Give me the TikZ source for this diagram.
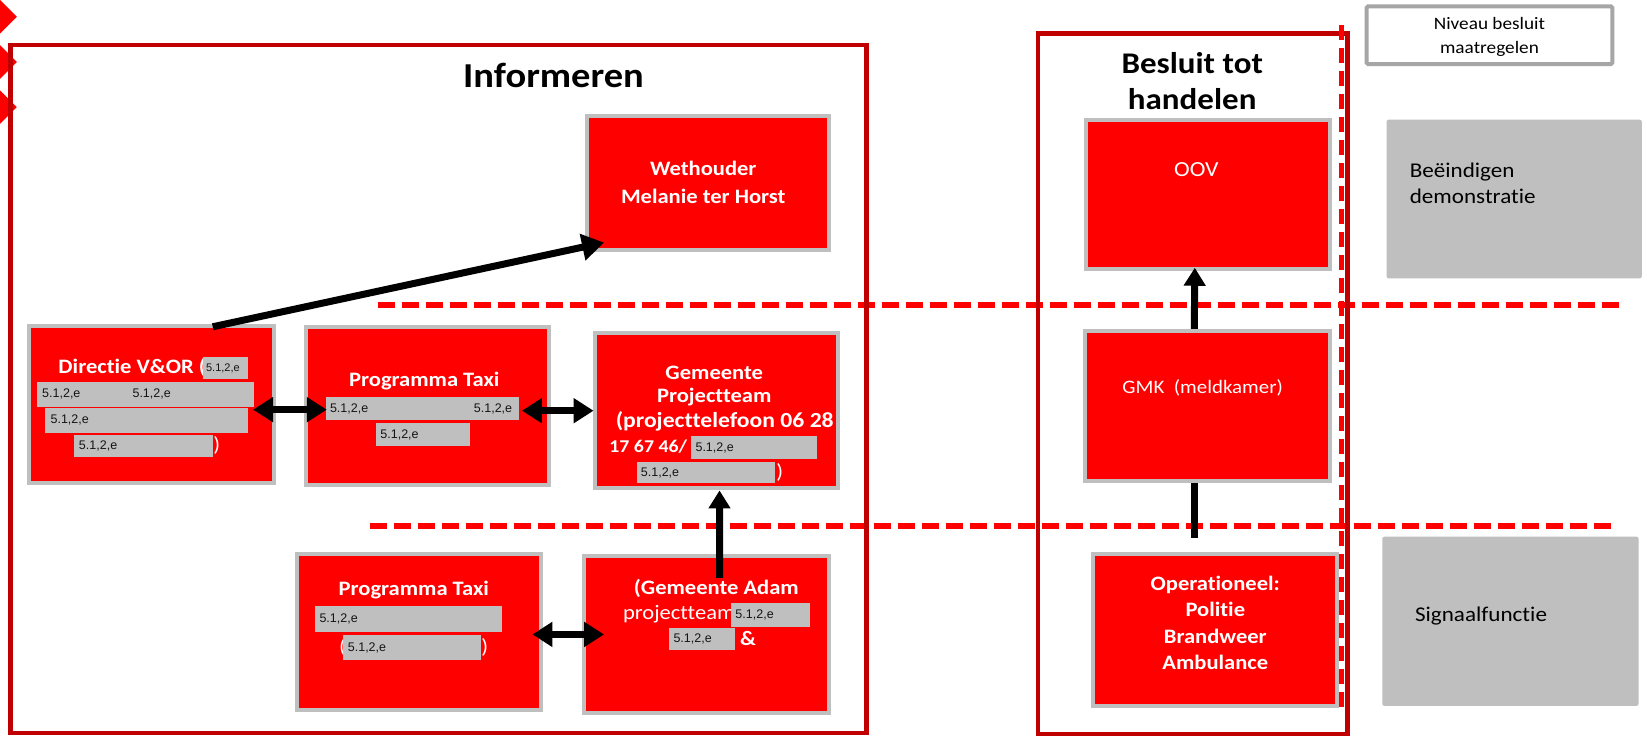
\documentclass[tikz,border=0pt]{standalone}
\usepackage{fontspec}
\setmainfont{Carlito}[FakeStretch=1.1, Ligatures=NoCommon]
\newfontfamily\redactfont{Liberation Sans}
\usetikzlibrary{arrows.meta,fit,calc}
\definecolor{frameRed}{HTML}{C00000}
\definecolor{boxRed}{HTML}{FF0000}
\definecolor{boxGray}{HTML}{BFBFBF}
\definecolor{legGray}{HTML}{A6A6A6}
\definecolor{redactTxt}{HTML}{141414}
\tikzset{
  frame/.style={draw=frameRed, line width=4.5pt, inner sep=0pt},
  redbox/.style={draw=boxGray, fill=boxRed, line width=4pt, inner sep=0pt},
  graybox/.style={fill=boxGray, rounded corners=2pt, inner sep=0pt},
  legbox/.style={draw=legGray, fill=white, line width=4pt, rounded corners=1.5pt, inner sep=0pt},
  divider/.style={draw=boxRed, line width=6pt, dash pattern=on 17pt off 7pt},
  vdivider/.style={draw=boxRed, line width=4.5pt, dash pattern=on 15pt off 8pt},
  arr/.style={line width=7pt, -{Triangle[length=22pt,width=26pt]}},
  arrv/.style={line width=7pt, -{Triangle[length=18pt,width=21pt]}},
  darr/.style={line width=7pt, {Triangle[length=20pt,width=24pt]}-{Triangle[length=20pt,width=24pt]}},
  link/.style={line width=7pt},
  redact/.style={fill=boxGray},
  rtxt/.style={font=\redactfont\fontsize{12.5}{14}\selectfont, text=redactTxt, inner sep=0pt, anchor=west},
  wtitle/.style={font=\bfseries\fontsize{20.5}{25.5}\selectfont, text=white, inner sep=0pt, align=center},
  wtext/.style={font=\fontsize{20.5}{25.5}\selectfont, text=white, inner sep=0pt, align=center},
  gtext/.style={font=\fontsize{21}{26.5}\selectfont, inner sep=0pt, align=left, anchor=west},
}
\begin{document}
\begin{tikzpicture}[x=1.0504pt,y=-1.0504pt]
\useasboundingbox[fill=white] (0,0) rectangle (1568,705.4);

% corner marks
\fill[boxRed] (0,0) -- (16,16) -- (0,32) -- cycle;
\fill[boxRed] (0,43) -- (16,59) -- (0,75) -- cycle;
\fill[boxRed] (0,86) -- (16,102) -- (0,118) -- cycle;

% level dividers
\draw[divider] (360,290) -- (1545,290);
\draw[divider] (352,501) -- (1535,501);

% frames
\node[frame, fit={(10,43) (825,698)}] (fInf) {};
\node[frame, fit={(988,32) (1283,699)}] (fBes) {};
\draw[vdivider] (1277,24) -- (1277,678);

\node[font=\bfseries\fontsize{35}{40}\selectfont, inner sep=0pt] (tInf) at (527,72) {Informeren};
\node[font=\bfseries\fontsize{30}{36}\selectfont, inner sep=0pt, align=center] (tBes) at (1135,77) {Besluit tot\\handelen};

% legend and side labels
\node[legbox, fit={(1301,6) (1535,61)}] (leg) {};
\node[font=\fontsize{17.5}{24}\selectfont, align=center, inner sep=0pt] (legT) at (1418,35.5) {Niveau besluit\\maatregelen};
\node[graybox, fit={(1320,114) (1563,265)}] (gBe) {};
\node[gtext] (gBeT) at (1342,174.5) {Beëindigen\\demonstratie};
\node[graybox, fit={(1316,511) (1560,672)}] (gSi) {};
\node[gtext] (gSiT) at (1347,586) {Signaalfunctie};

% red boxes
\node[redbox, fit={(559,110) (789,238)}] (weth) {};
\node[redbox, fit={(28,310) (261,460)}] (dir) {};
\node[redbox, fit={(291,311) (523,462)}] (pt1) {};
\node[redbox, fit={(566,317) (798,465)}] (gp) {};
\node[redbox, fit={(283,527) (515,676)}] (pt2) {};
\node[redbox, fit={(556,529) (789,679)}] (ga) {};
\node[redbox, fit={(1034,114) (1266,256)}] (oov) {};
\node[redbox, fit={(1033,315) (1266,458)}] (gmk) {};
\node[redbox, fit={(1041,527) (1273,672)}] (op) {};

% Wethouder
\node[wtitle, font=\bfseries\fontsize{20.5}{28}\selectfont] (wethT) at (669.5,173.3) {Wethouder\\Melanie ter Horst};

% Directie V&OR
\node[wtitle, anchor=west] (dirT) at (55.5,350) {Directie V\&OR (};
\fill[redact] (193,340) rectangle (236,361);
\node[rtxt, font=\redactfont\fontsize{11}{13}\selectfont] (d1) at (196,351) {5.1,2,e};
\fill[redact] (35,364) rectangle (242,387);
\node[rtxt] (d2) at (40,375.5) {5.1,2,e};
\node[rtxt] (d3) at (126,375.5) {5.1,2,e};
\fill[redact] (43,388) rectangle (236,412);
\node[rtxt] (d4) at (48,400) {5.1,2,e};
\fill[redact] (70,414) rectangle (203,435);
\node[rtxt] (d5) at (75,424.5) {5.1,2,e};
\node[wtext, anchor=west] (d6) at (203,424.5) {)};

% Programma Taxi (top)
\node[wtitle] (pt1T) at (404,363) {Programma Taxi};
\fill[redact] (310,378) rectangle (494,400);
\node[rtxt] (p1) at (314,389) {5.1,2,e};
\node[rtxt] (p2) at (451,389) {5.1,2,e};
\fill[redact] (358,403) rectangle (447,425);
\node[rtxt] (p3) at (362,414) {5.1,2,e};

% Gemeente Projectteam
\node[wtitle] (gpT1) at (680,354.5) {Gemeente};
\node[wtitle] (gpT2) at (680,378) {Projectteam};
\node[wtitle, font=\bfseries\fontsize{21.5}{25.5}\selectfont] (gpT3) at (690,401) {(projecttelefoon 06 28};
\node[wtitle, font=\bfseries\fontsize{18}{22}\selectfont, anchor=west] (gpT4) at (580,425) {17 67 46/};
\fill[redact] (658,415) rectangle (778,437);
\node[rtxt] (g1) at (662,426) {5.1,2,e};
\fill[redact] (606,440) rectangle (738,460);
\node[rtxt] (g2) at (610,450) {5.1,2,e};
\node[wtext, anchor=west] (g3) at (739,450) {)};

% Programma Taxi (bottom)
\node[wtitle] (pt2T) at (394,562) {Programma Taxi};
\fill[redact] (300,577) rectangle (478,602);
\node[rtxt] (q1) at (304,589.5) {5.1,2,e};
\node[wtext, anchor=east] (q0) at (329.5,616.5) {(};
\fill[redact] (327,605) rectangle (458,628);
\node[rtxt] (q2) at (331,616.5) {5.1,2,e};
\node[wtext, anchor=west] (q3) at (458,616.5) {)};

% Gemeente Adam
\node[wtitle] (gaT1) at (682,560) {(Gemeente Adam};
\node[wtext, anchor=west] (gaT2) at (593,585) {projectteam};
\fill[redact] (696,574) rectangle (771,596.5);
\node[rtxt] (a1t) at (700,585) {5.1,2,e};
\fill[redact] (637,598) rectangle (700,619);
\node[rtxt] (a2t) at (641,608.5) {5.1,2,e};
\node[wtitle, anchor=west] (gaT3) at (704.5,608) {\&};

% right column
\node[wtext, font=\fontsize{21.5}{26}\selectfont] (oovT) at (1139,161) {OOV};
\node[wtext, font=\fontsize{19}{24}\selectfont] (gmkT) at (1145,369) {GMK\ \ (meldkamer)};
\node[wtitle, font=\bfseries\fontsize{20.5}{26.6}\selectfont] (opT) at (1157,593) {Operationeel:\\Politie\\Brandweer\\Ambulance};

% connectors
\draw[arr] ($(dir.north west)!0.745!(dir.north east)+(0,3)$) -- ($(weth.south west)+(18,-9)$);
\draw[darr] ($(dir.east)+(-22,5)$) -- ($(pt1.west)+(22,3.5)$);
\draw[darr] ($(pt1.east)+(-28,4.5)$) -- ($(gp.west)+(1,0)$);
\draw[darr] ($(pt2.east)+(-10,2.5)$) -- ($(ga.west)+(21,0)$);
\draw[arrv] ($(ga.north)+(12.5,23)$) -- ($(gp.south)+(3,0)$);
\draw[arrv] ($(gmk.north)+(-12.5,0)$) -- ($(oov.south)+(-12.5,-3)$);
\draw[link] ($(gmk.south)+(-12.5,0)$) -- ($(op.north)+(-20,-12.5)$);
\end{tikzpicture}
\end{document}
